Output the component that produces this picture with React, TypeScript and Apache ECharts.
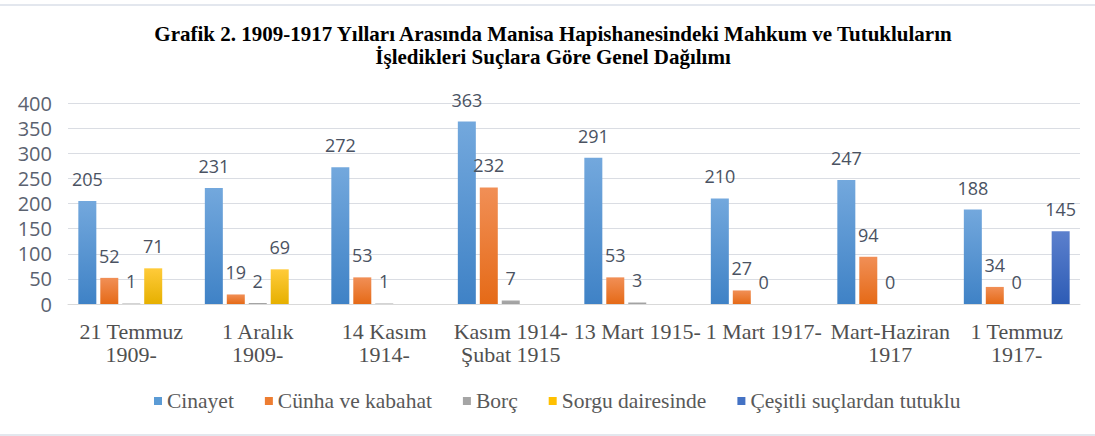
import React, { useEffect, useRef } from "react";
import * as echarts from "echarts";

const titleText =
  "Grafik 2. 1909-1917 Yılları Arasında Manisa Hapishanesindeki Mahkum ve Tutukluların\nİşledikleri Suçlara Göre Genel Dağılımı";

const categories = [
  "21 Temmuz\n1909-",
  "1 Aralık\n1909-",
  "14 Kasım\n1914-",
  "Kasım 1914-\nŞubat 1915",
  "13 Mart 1915-",
  "1 Mart 1917-",
  "Mart-Haziran\n1917",
  "1 Temmuz\n1917-",
];

const seriesNames = [
  "Cinayet",
  "Cünha ve kabahat",
  "Borç",
  "Sorgu dairesinde",
  "Çeşitli suçlardan tutuklu",
];

const cinayet = [205, 231, 272, 363, 291, 210, 247, 188];
const cunha = [52, 19, 53, 232, 53, 27, 94, 34];
const borc = [1, 2, 1, 7, 3, 0, 0, 0];
const sorgu = [71, 69, null, null, null, null, null, null];
const cesitli = [null, null, null, null, null, null, null, 145];

const yTicks = { min: 0, max: 400, interval: 50 };

const solidColors = ["#5b9bd5", "#ed7d31", "#a5a5a5", "#ffc000", "#4472c4"];
const gradients: [string, string][] = [
  ["#73a8dd", "#3f82c6"],
  ["#f18f56", "#e56a17"],
  ["#a9a9a9", "#a0a0a0"],
  ["#ffcb3a", "#e6b000"],
  ["#5c80cd", "#2d5cb5"],
];

export default function App() {
  const ref = useRef<HTMLDivElement>(null);

  useEffect(() => {
    if (!ref.current) return;
    const chart = echarts.init(ref.current, undefined, { renderer: "svg" });
    const dataSets = [cinayet, cunha, borc, sorgu, cesitli];

    const series = dataSets.map((d, i) => ({
      name: seriesNames[i],
      type: "bar",
      data: d,
      barWidth: 18,
      barGap: "22%",
      itemStyle: {
        color: {
          type: "linear",
          x: 0,
          y: 0,
          x2: 0,
          y2: 1,
          colorStops: [
            { offset: 0, color: gradients[i][0] },
            { offset: 1, color: gradients[i][1] },
          ],
        },
      },
      label: {
        show: true,
        position: "top",
        distance: 13,
        fontFamily: "Open Sans",
        fontSize: 18,
        color: "#4a5262",
      },
    }));

    chart.setOption({
      animation: false,
      backgroundColor: "#ffffff",
      graphic: [
        {
          type: "text",
          x: 553,
          y: 22,
          style: {
            text: titleText,
            textAlign: "center",
            font: "bold 21px 'Liberation Serif'",
            lineHeight: 23,
            fill: "#000000",
          },
        },
        {
          type: "line",
          shape: { x1: 0, y1: 5, x2: 1095, y2: 5 },
          style: { stroke: "#e3e7ee", lineWidth: 2 },
        },
        {
          type: "line",
          shape: { x1: 0, y1: 435, x2: 1095, y2: 435 },
          style: { stroke: "#e3e7ee", lineWidth: 2 },
        },
      ],
      grid: { left: 68, right: 15, top: 103, bottom: 132, containLabel: false },
      legend: {
        left: 149,
        top: 385,
        itemWidth: 8,
        itemHeight: 8,
        itemGap: 31,
        icon: "rect",
        textStyle: {
          fontFamily: "Liberation Serif",
          fontSize: 21.5,
          color: "#595959",
        },
        data: seriesNames.map((n, i) => ({
          name: n,
          itemStyle: { color: solidColors[i] },
        })),
      },
      xAxis: {
        type: "category",
        data: categories,
        axisTick: { show: false },
        axisLine: { lineStyle: { color: "#d9d9d9", width: 1 } },
        axisLabel: {
          margin: 16,
          interval: 0,
          fontFamily: "Liberation Serif",
          fontSize: 22,
          lineHeight: 23,
          color: "#505050",
        },
      },
      yAxis: {
        type: "value",
        min: yTicks.min,
        max: yTicks.max,
        interval: yTicks.interval,
        axisLine: { show: false },
        axisTick: { show: false },
        splitLine: { lineStyle: { color: "#dadde3", width: 1 } },
        axisLabel: {
          margin: 16,
          fontFamily: "Open Sans",
          fontSize: 20,
          color: "#5b6270",
        },
      },
      series,
    });

    return () => chart.dispose();
  }, []);

  return (
    <div
      ref={ref}
      style={{ position: "fixed", left: 0, top: 0, width: 1095, height: 436 }}
    />
  );
}
